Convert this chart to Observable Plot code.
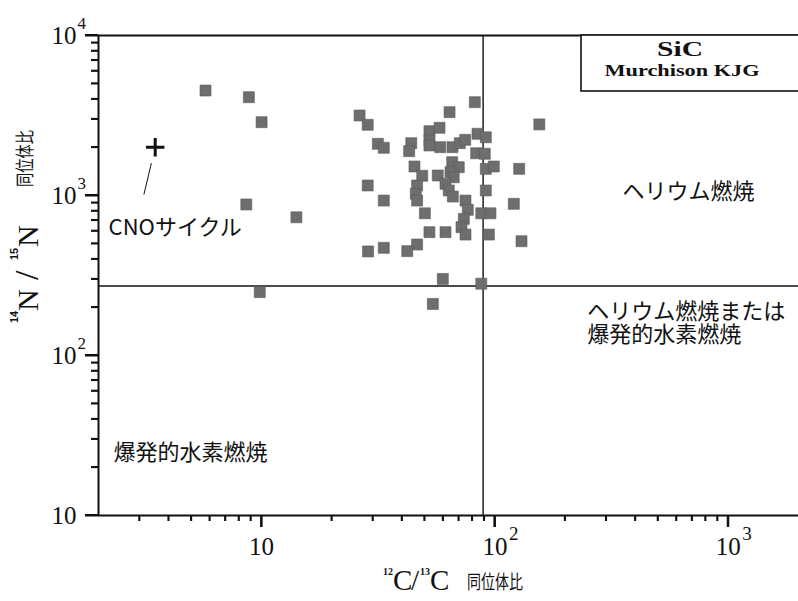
<!DOCTYPE html>
<html><head><meta charset="utf-8">
<script src="https://cdn.jsdelivr.net/npm/d3@7"></script>
<script src="https://cdn.jsdelivr.net/npm/@observablehq/plot@0.6"></script>
<style>body{margin:0;background:#fff;overflow:hidden;} #chart svg{display:block;}</style>
</head><body><div id="chart"></div>
<script>
// SiC grains (Murchison KJG): 12C/13C and 14N/15N isotope ratios
const c12c13 = [5.75, 8.82, 10.0, 8.6, 14.1, 9.82,
  82.0, 63.9, 26.3, 28.5, 155, 52.4, 57.9, 84.2, 91.4, 31.5,
  33.4, 43.8, 42.9, 52.4, 52.4, 58.3, 65.8, 70.7, 74.6, 83.1,
  90.5, 45.2, 48.8, 56.9, 65.6, 70.0, 64.5, 66.6, 91.4, 98.9,
  127, 28.5, 46.4, 61.4, 63.4, 66.0, 45.8, 46.4, 33.4, 91.4,
  74.8, 76.5, 120.5, 50.1, 87.4, 95.7, 73.6, 71.9, 74.8, 52.4,
  61.4, 94.2, 130, 46.4, 42.1, 33.4, 28.6, 59.8, 87.4, 54.2];
const n14n15 = [4530, 4115, 2873, 879, 731, 249,
  3830, 3318, 3162, 2766, 2781, 2523, 2650, 2431, 2312, 2104,
  1987, 2123, 1893, 2207, 2054, 2004, 2004, 2123, 2229, 1837,
  1823, 1518, 1328, 1334, 1615, 1503, 1399, 1300, 1468, 1518,
  1468, 1155, 1155, 1184, 1075, 985, 1025, 930, 930, 1075,
  930, 814, 887, 774, 774, 774, 714, 634, 570, 590,
  590, 570, 518, 494, 449, 471, 447, 301, 281, 210];
// CNO cycle equilibrium point
const cnoX = [3.5];
const cnoY = [2000];
// reference (solar C, terrestrial N)
const solarC = [89];
const terrestrialN = [272];
// ticks
const xMajorTicks = [10, 100, 1000];
const xTickBase = ["10", "10", "10"];
const xTickExp = ["", "2", "3"];
const xMinorTicks = [3,4,5,6,7,8,9,20,30,40,50,60,70,80,90,200,300,400,500,600,700,800,900];
const yMajorTicks = [10, 100, 1000, 10000];
const yTickBase = ["10", "10", "10", "10"];
const yTickExp = ["", "2", "3", "4"];
const yMinorTicks = [20,30,40,50,60,70,80,90,200,300,400,500,600,700,800,900,2000,3000,4000,5000,6000,7000,8000,9000];
// texts
const regionHe = "ヘリウム燃焼";
const regionHeOrH = "ヘリウム燃焼または\n爆発的水素燃焼";
const regionH = "爆発的水素燃焼";
const cnoLabel = "CNOサイクル";
const boxTitle = "SiC";
const boxSub = "Murchison KJG";
const xTitleParts = ["12", "C", "/", "13", "C", "同位体比"];
const yTitleParts = ["14", "N", "/", "15", "N", "同位体比"];

const serif = "'Liberation Serif', 'Times New Roman', serif";
const sans = "'Liberation Sans', Arial, sans-serif";
const cjk = "'Noto Sans CJK JP', 'Noto Sans', sans-serif";
const ink = "#111";

const chart = Plot.plot({
  width: 798,
  height: 601,
  marginLeft: 98,
  marginRight: 0,
  marginTop: 35,
  marginBottom: 86,
  style: {fontFamily: serif, background: "white", color: ink},
  x: {type: "log", domain: [2, 2000], axis: null},
  y: {type: "log", domain: [10, 10000], axis: null},
  marks: [
    // reference lines
    Plot.ruleX(solarC, {stroke: ink, strokeWidth: 1.4}),
    Plot.ruleY(terrestrialN, {stroke: ink, strokeWidth: 1.4}),
    // data
    Plot.dot(c12c13, {x: d => d, y: (d, i) => n14n15[i], symbol: "square", r: 6.2,
      fill: "#6e6e6e", stroke: "#5a5a5a", strokeWidth: 0.6}),
    Plot.dot(cnoX, {x: d => d, y: (d, i) => cnoY[i], symbol: "plus", r: 6, stroke: ink, strokeWidth: 3}),
    Plot.link(cnoX, {x1: 3.37, y1: 1593, x2: 3.13, y2: 1014, stroke: ink, strokeWidth: 1}),
    // tick labels
    Plot.text(xMajorTicks, {x: d => d, frameAnchor: "bottom", dy: 39, text: (d, i) => xTickBase[i],
      fontSize: 25, fontFamily: serif, fill: ink}),
    Plot.text(xMajorTicks, {x: d => d, frameAnchor: "bottom", dx: 14, dy: 24, textAnchor: "start",
      text: (d, i) => xTickExp[i], fontSize: 19, fontFamily: serif, fill: ink}),
    Plot.text(yMajorTicks, {y: d => d, frameAnchor: "left", dx: -22, textAnchor: "end",
      text: (d, i) => yTickBase[i], fontSize: 25, fontFamily: serif, fill: ink}),
    Plot.text(yMajorTicks, {y: d => d, frameAnchor: "left", dx: -21, dy: -12, textAnchor: "start",
      text: (d, i) => yTickExp[i], fontSize: 17, fontFamily: serif, fill: ink}),
    // region annotations
    Plot.text([regionHe], {x: 352, y: 1052, text: d => d, textAnchor: "start", fontSize: 22, fontFamily: cjk, fill: ink}),
    Plot.text([regionHeOrH], {x: 249, y: 160, text: d => d, textAnchor: "start", lineHeight: 1.04, fontSize: 22, fontFamily: cjk, fill: ink}),
    Plot.text([regionH], {x: 2.32, y: 24.6, text: d => d, textAnchor: "start", fontSize: 22, fontFamily: cjk, fill: ink}),
    Plot.text([cnoLabel], {x: 2.21, y: 627, text: d => d, textAnchor: "start", fontSize: 22, fontFamily: cjk, fill: ink}),
    // tick marks drawn as rules in the margins
    Plot.ruleX(xMinorTicks, {insetTop: 474, dy: 6, stroke: ink, strokeWidth: 1.6}),
    Plot.ruleX(xMajorTicks, {insetTop: 468, dy: 12, stroke: ink, strokeWidth: 2}),
    Plot.ruleY(yMinorTicks, {insetRight: 693, dx: -7, stroke: ink, strokeWidth: 1.6}),
    Plot.ruleY(yMajorTicks, {insetRight: 687, dx: -13, stroke: ink, strokeWidth: 2}),
    // frame lines
    Plot.ruleY([10], {stroke: ink, strokeWidth: 2}),
    Plot.ruleY([10000], {stroke: ink, strokeWidth: 2}),
    Plot.ruleX([2], {stroke: ink, strokeWidth: 2})
  ]
});
document.getElementById("chart").appendChild(chart);

const svg = d3.select(chart);

// sample box
const box = svg.append("g").attr("text-anchor", "middle");
box.append("rect").attr("x", 581).attr("y", 35).attr("width", 230).attr("height", 56)
  .attr("fill", "white").attr("stroke", ink).attr("stroke-width", 1.6);
box.append("text").attr("x", 680).attr("y", 56)
  .attr("font-family", serif).attr("font-weight", "bold").attr("font-size", 22)
  .attr("textLength", 46).attr("lengthAdjust", "spacingAndGlyphs").attr("fill", ink).text(boxTitle);
box.append("text").attr("x", 682).attr("y", 76)
  .attr("font-family", serif).attr("font-weight", "bold").attr("font-size", 17)
  .attr("textLength", 155).attr("lengthAdjust", "spacingAndGlyphs").attr("fill", ink).text(boxSub);

// x title: separate pieces, left-anchored
const xSpec = [
  {x: 383, y: 575, fs: 10, ff: serif, fw: "bold"},
  {x: 393, y: 590, fs: 29, ff: serif},
  {x: 411, y: 590, fs: 29, ff: serif},
  {x: 420, y: 575, fs: 10, ff: serif, fw: "bold"},
  {x: 430, y: 590, fs: 29, ff: serif},
  {x: 467, y: 589, fs: 19, ff: cjk, tl: 56}
];
const xg = svg.append("g").attr("fill", ink).attr("text-anchor", "start");
xTitleParts.forEach((t, i) => {
  const s = xSpec[i];
  const el = xg.append("text").attr("x", s.x).attr("y", s.y).attr("font-size", s.fs)
    .attr("font-family", s.ff).attr("font-weight", s.fw || "normal").text(t);
  if (s.tl) el.attr("textLength", s.tl).attr("lengthAdjust", "spacingAndGlyphs");
});

// y title (rotated): p = distance along text from bottom, b = raise above baseline
const ySpec = [
  {p: 0, b: 20, fs: 11, ff: sans, fw: "bold"},
  {p: 12, b: 0, fs: 30, ff: serif},
  {p: 43, b: 0, fs: 34, ff: serif},
  {p: 63, b: 20, fs: 11, ff: sans, fw: "bold"},
  {p: 76, b: 0, fs: 30, ff: serif},
  {p: 136, b: 6, fs: 19, ff: cjk, tl: 57}
];
const yg = svg.append("g").attr("fill", ink).attr("text-anchor", "start");
yTitleParts.forEach((t, i) => {
  const s = ySpec[i];
  const el = yg.append("text").attr("transform", `translate(${38 - s.b},${323 - s.p}) rotate(-90)`)
    .attr("font-size", s.fs).attr("font-family", s.ff).attr("font-weight", s.fw || "normal").text(t);
  if (s.tl) el.attr("textLength", s.tl).attr("lengthAdjust", "spacingAndGlyphs");
});

// redundant tick marks as filled rects, positioned through Plot's own scales
const sx = chart.scale("x"), sy = chart.scale("y");
const x0 = sx.apply(2), y0 = sy.apply(10);
const tg = svg.append("g").attr("fill", ink).attr("stroke", "none");
const tickSets = [
  {vals: xMinorTicks, axis: "x", len: 6, w: 1.6},
  {vals: xMajorTicks, axis: "x", len: 12, w: 2},
  {vals: yMinorTicks, axis: "y", len: 7, w: 1.6},
  {vals: yMajorTicks, axis: "y", len: 13, w: 2}
];
tickSets.forEach(ts => ts.vals.forEach(v => {
  if (ts.axis === "x") {
    const px = +sx.apply(v);
    if (isFinite(px)) tg.append("rect").attr("x", px - ts.w / 2).attr("y", y0).attr("width", ts.w).attr("height", ts.len);
  } else {
    const py = +sy.apply(v);
    if (isFinite(py)) tg.append("rect").attr("x", x0 - ts.len).attr("y", py - ts.w / 2).attr("width", ts.len).attr("height", ts.w);
  }
}));
</script>
</body></html>
